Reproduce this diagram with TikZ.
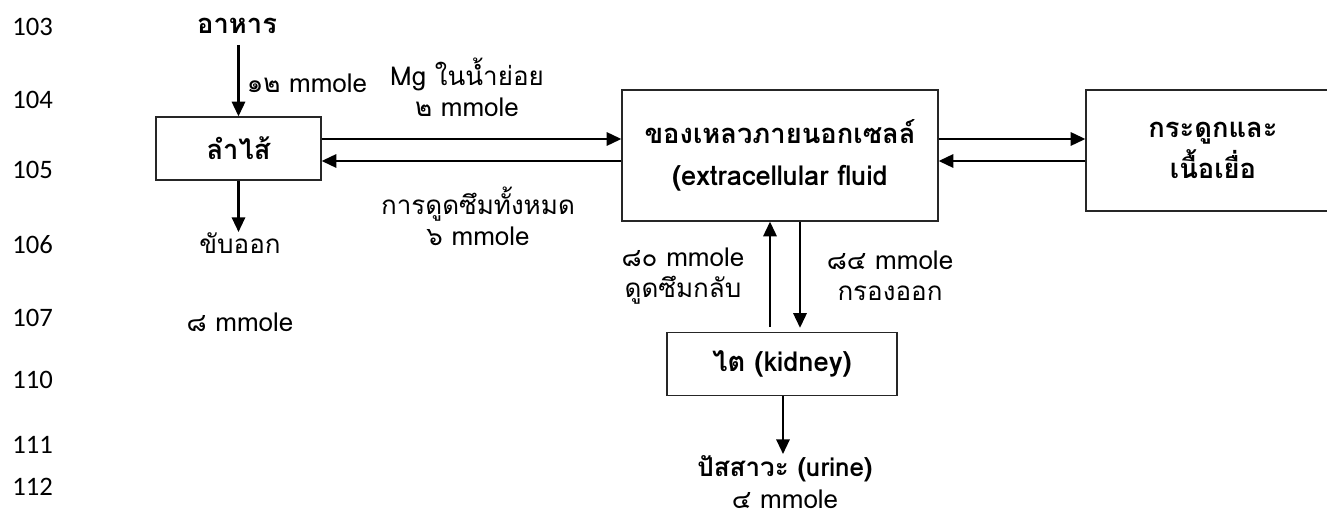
\documentclass[tikz,border=0pt]{standalone}
\usepackage{fontspec}
\usepackage{tikz}
\usetikzlibrary{arrows.meta}
\newfontfamily\thaifont[Script=Thai]{Loma}
\newfontfamily\linefont{Carlito}

\begin{document}
\begin{tikzpicture}[x=0.75pt,y=0.75pt,yscale=-1,xscale=1,
  box/.style={draw=black!85,line width=1pt,inner sep=0pt,align=center,font=\thaifont\bfseries\fontsize{20.5}{31}\selectfont},
  lbl/.style={inner sep=0pt,align=center,font=\thaifont\fontsize{19.5}{23.5}\selectfont},
  linenum/.style={anchor=west,inner sep=0pt,font=\linefont\fontsize{20}{22}\selectfont},
  flow/.style={line width=1.6pt,-{Triangle[length=11pt,width=10pt]}}]
\useasboundingbox (0,0) rectangle (1327,516);

% Line numbers
\node[linenum] (n103) at (12,27) {103};
\node[linenum] (n104) at (12,100) {104};
\node[linenum] (n105) at (12,170) {105};
\node[linenum] (n106) at (12,245) {106};
\node[linenum] (n107) at (12,318) {107};
\node[linenum] (n110) at (12,380) {110};
\node[linenum] (n111) at (12,445) {111};
\node[linenum] (n112) at (12,487) {112};

%Shape: Rectangle
\node[box,minimum width=123.75pt,minimum height=47.25pt] (gut) at (238.5,148.5) {ลำไส้};
%Shape: Rectangle
\node[box,minimum width=237pt,minimum height=98.25pt] (ecf) at (780,155.5) {ของเหลวภายนอกเซลล์\\(extracellular fluid};
%Shape: Rectangle
\node[box,minimum width=190.5pt,minimum height=90.75pt] (bone) at (1213,150.5) {กระดูกและ\\เนื้อเยื่อ};
%Shape: Rectangle
\node[box,minimum width=172.5pt,minimum height=47.25pt] (kid) at (782,364) {ไต (kidney)};

% Text Node
\node[lbl,font=\thaifont\bfseries\fontsize{20.5}{24}\selectfont] (food) at (237,26) {อาหาร};
% Text Node
\node[lbl] (l12) at (307,83) {๑๒ mmole};
% Text Node
\node[lbl] (mg) at (467,87) {Mg ในน้ำย่อย\\๒ mmole};
% Text Node
\node[lbl] (abs) at (478,216) {การดูดซึมทั้งหมด\\๖ mmole};
% Text Node
\node[lbl] (exc) at (240,243) {ขับออก};
% Text Node
\node[lbl] (l8) at (240,322) {๘ mmole};
% Text Node
\node[lbl] (l80) at (683,276) {๘๐ mmole\\ดูดซึมกลับ};
% Text Node
\node[lbl] (l84) at (890,276) {๘๔ mmole\\กรองออก};
% Text Node
\node[lbl,font=\thaifont\fontsize{19.5}{23.5}\selectfont] (urine) at (785,482) {\textbf{ปัสสาวะ (urine)}\\๔ mmole};

\coordinate (r1) at (0,139);
\coordinate (r2) at (0,161);
\coordinate (c1) at (770,0);
\coordinate (c2) at (800,0);
\coordinate (gutout) at (238.5,232);
\coordinate (kidout) at (783,454);

%Straight Lines
\draw[flow] (gut.north |- 0,45) -- (gut.north);
\draw[flow] (gut.south) -- (gutout);
%Straight Lines
\draw[flow] (gut.east |- r1) -- (ecf.west |- r1);
\draw[flow] (ecf.west |- r2) -- (gut.east |- r2);
%Straight Lines
\draw[flow] (ecf.east |- r1) -- (bone.west |- r1);
\draw[flow] (bone.west |- r2) -- (ecf.east |- r2);
%Straight Lines
\draw[flow,shorten <=3.5pt] (kid.north -| c1) -- (ecf.south -| c1);
\draw[flow,shorten >=3pt] (ecf.south -| c2) -- (kid.north -| c2);
\draw[flow] (kid.south -| kidout) -- (kidout);
\end{tikzpicture}
\end{document}
